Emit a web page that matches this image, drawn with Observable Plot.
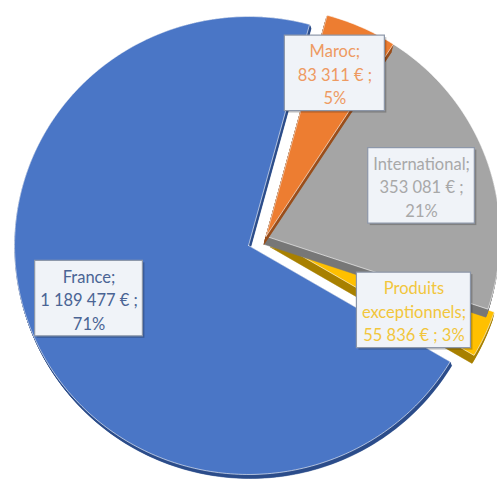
<!DOCTYPE html>
<html><head><meta charset="utf-8">
<script src="https://cdn.jsdelivr.net/npm/d3@7"></script>
<script src="https://cdn.jsdelivr.net/npm/@observablehq/plot@0.6"></script>
<style>body{margin:0;background:#fff} #chart svg{display:block}</style>
</head><body><div id="chart"></div>
<script>
const categories = ["France", "Maroc", "International", "Produits exceptionnels"];
const values = [1189477, 83311, 353081, 55836];
const colors = ["#4A76C6", "#ED7D31", "#A5A5A5", "#FFC000"];
const sideColors = ["#2B4C8A", "#9A4E1B", "#777777", "#A88000"];
const labelColors = ["#4A6494", "#EE9A62", "#A8A8A8", "#F2C63C"];
const exploded = [false, true, true, true];

const W = 497, H = 482;
const xDomain = [-1.06, 1.064], yDomain = [-1.035, 1.07];
const pxX = W / (xDomain[1] - xDomain[0]), pxY = H / (yDomain[1] - yDomain[0]);
const deg = Math.PI / 180;
const total = d3.sum(values);
const start = 120.5 * deg;
const arcs = d3.pie().sort(null).startAngle(start).endAngle(start + 2 * Math.PI)(values);

// explosion: exploded slices move together, the smallest one a little further along its own bisector
const ex = arcs.filter((a, i) => exploded[i]);
const explAngle = (ex[0].startAngle + ex[ex.length - 1].endAngle) / 2 - 6 * deg;
const explDist = 0.085;
const extra = [0, 0, 0, 0.03];
const offs = arcs.map((a, i) => {
  if (!exploded[i]) return [0, 0];
  const mid = (a.startAngle + a.endAngle) / 2;
  return [explDist * Math.sin(explAngle) + extra[i] * Math.sin(mid),
          explDist * Math.cos(explAngle) + extra[i] * Math.cos(mid)];
});
const depthVec = arcs.map((a, i) => exploded[i] ? [-2 / pxX, -8 / pxY] : [1.5 / pxX, -4 / pxY]);

function slicePts(a, ox, oy, key) {
  const pts = [{x: ox, y: oy, key}];
  const n = Math.max(2, Math.ceil((a.endAngle - a.startAngle) / deg));
  for (let k = 0; k <= n; k++) {
    const t = a.startAngle + (a.endAngle - a.startAngle) * k / n;
    pts.push({x: ox + Math.sin(t), y: oy + Math.cos(t), key});
  }
  pts.push({x: ox, y: oy, key});
  return pts;
}

const fmtNum = d3.formatLocale({decimal: ",", thousands: " ", grouping: [3], currency: ["", ""]}).format(",d");
const labelText = categories.map((c, i) => {
  const n = fmtNum(values[i]) + " €", p = Math.round(values[i] / total * 100) + "%";
  return c.includes(" ") ? c.split(" ").join("\n") + ";\n" + n + " ; " + p : c + ";\n" + n + " ;\n" + p;
});

// label placement (best-fit style): small angular shift and radius per slice
const labelShift = [3.4, -1.6, 0.9, 2.7];
const labelRadius = [0.72, 0.77, 0.70, 0.68];
const fontSize = 16.5;
const ctx = document.createElement("canvas").getContext("2d");
ctx.font = fontSize + "px Lato";
const lineH = 23.5;
const labels = arcs.map((a, i) => {
  const mid = (a.startAngle + a.endAngle) / 2 + labelShift[i] * deg;
  const lines = labelText[i].split("\n");
  const w = Math.max(100, d3.max(lines, l => ctx.measureText(l).width) + 10);
  const h = lines.length * lineH + 5;
  return {
    x: offs[i][0] + labelRadius[i] * Math.sin(mid),
    y: offs[i][1] + labelRadius[i] * Math.cos(mid),
    text: labelText[i], color: labelColors[i], w, h
  };
});

const order = [0, 3, 2, 1];
const marks = [];
for (const i of order) {
  const a = arcs[i];
  const depth = [];
  for (let s = 1; s <= 8; s++) {
    depth.push(...slicePts(a, offs[i][0] + depthVec[i][0] * s / 8, offs[i][1] + depthVec[i][1] * s / 8, "d" + s));
  }
  marks.push(Plot.line(depth, {x: "x", y: "y", z: "key", fill: sideColors[i], stroke: sideColors[i], strokeWidth: 0.5}));
  marks.push(Plot.line(slicePts(a, offs[i][0], offs[i][1], "f"), {x: "x", y: "y", z: "key", fill: colors[i], stroke: "white", strokeWidth: 0.6}));
}
const box = {
  x1: d => d.x - d.w / 2 / pxX, x2: d => d.x + d.w / 2 / pxX,
  y1: d => d.y - d.h / 2 / pxY, y2: d => d.y + d.h / 2 / pxY
};
marks.push(Plot.rect(labels, {...box, fill: "#000", fillOpacity: 0.22, dx: 2, dy: 2}));
marks.push(Plot.rect(labels, {...box, fill: "#F0F3F8", stroke: "#8C96A8", strokeWidth: 1.2}));
marks.push(Plot.text(labels, {x: "x", y: "y", text: "text", fill: "color", fontSize, lineHeight: lineH / fontSize, fontFamily: "Lato"}));

const chart = Plot.plot({
  width: W, height: H, margin: 0,
  x: {domain: xDomain, axis: null},
  y: {domain: yDomain, axis: null},
  style: {background: "white"},
  marks
});
document.getElementById("chart").appendChild(chart);
</script>
</body></html>
